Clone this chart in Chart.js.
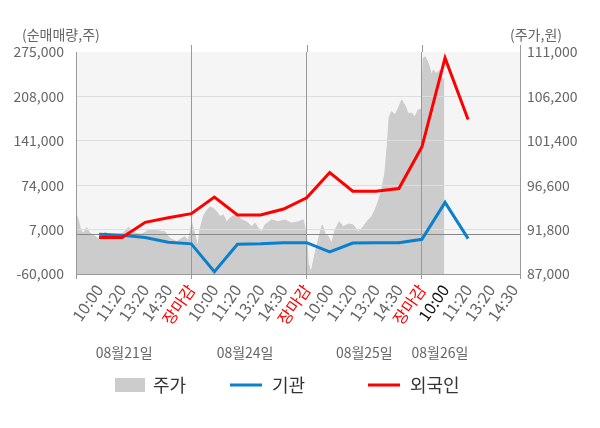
<!DOCTYPE html>
<html><head><meta charset="utf-8">
<script src="https://cdn.jsdelivr.net/npm/chart.js@4.4.0/dist/chart.umd.min.js"></script>
<style>html,body{margin:0;padding:0;background:#fff}#wrap{width:600px;height:428px;position:relative}</style>
</head><body><div id="wrap"><canvas id="c"></canvas></div>
<script>
// ---- data ----
const tickLabels = ['10:00','11:20','13:20','14:30','장마감',
                    '10:00','11:20','13:20','14:30','장마감',
                    '10:00','11:20','13:20','14:30','장마감',
                    '10:00','11:20','13:20','14:30'];
const pointTimes = [1,2,3,4,5,6,7,8,9,10,11,12,13,14,15,16,17];
const foreign = [-5000,-5000,18000,25000,31000,56000,29000,29000,38000,55000,93000,65000,65000,69000,132000,266000,173000];
const institution = [0,-1500,-5000,-12000,-14500,-56500,-15000,-14500,-13000,-12800,-26800,-13200,-13000,-13000,-7600,48000,-6700];
const priceTime = [0,0.10,0.20,0.32,0.46,0.61,0.82,0.97,1.26,1.47,1.76,2.05,2.27,2.56,2.85,
  3.13,3.50,3.86,4.07,4.36,4.72,4.87,5.02,5.16,5.28,5.37,5.52,5.67,5.81,5.95,
  6.10,6.24,6.38,6.53,6.75,6.97,7.18,7.40,7.62,7.76,7.90,8.05,8.19,8.48,8.77,
  9.06,9.35,9.64,9.85,10.00,10.07,10.19,10.29,10.43,10.58,10.68,10.79,10.94,
  11.08,11.23,11.41,11.59,11.80,12.02,12.24,12.45,12.67,12.82,12.96,
  13.10,13.25,13.39,13.49,13.58,13.68,13.83,13.97,14.12,14.26,14.40,14.55,14.69,14.84,14.98,
  15.05,15.13,15.27,15.42,15.49,15.63,15.78,15.90,15.97];
const price = [93550,92850,91750,91400,92000,91400,91100,90750,91550,91200,91100,91400,92050,91400,91300,
  91700,91700,91550,90850,90500,91050,90550,92500,91200,89950,91750,93200,93900,94250,94100,
  93750,93200,93400,92650,93200,93400,92850,92650,92100,92500,91950,91550,92300,92850,92650,
  92850,92500,92650,92850,91050,88150,87150,88350,89950,91400,92300,91400,91050,
  90300,91750,92650,92100,92400,92300,91550,92100,92850,93200,93900,
  94800,96100,97900,100750,104000,104550,104200,104900,105800,105250,104350,104400,104000,104750,104850,
  110300,110500,109800,108500,109050,108700,109050,107950,108150];
const volumeTicks = [-60000,0,7000,74000,141000,208000,275000];
const priceTicks = [87000,91800,96600,101400,106200,111000];
const dayBoundaries = [0,5,10,15,19.25];
const dateLabels = ['08월21일','08월24일','08월25일','08월26일'];
const dateLabelAt = [2.09,7.33,12.5,15.78];

const FONT = "'Noto Sans CJK KR','Noto Sans',sans-serif";
const xTickValues = [0].concat(tickLabels.map((_, i) => i + 1), [19.25]);
const toXY = (xs, ys) => xs.map((x, i) => ({x: x, y: ys[i]}));

const bgPlugin = {
  id: 'bg',
  beforeDraw(chart) {
    const {ctx, chartArea: a} = chart;
    ctx.save();
    ctx.fillStyle = '#ffffff';
    ctx.fillRect(0, 0, chart.width, chart.height);
    ctx.fillStyle = '#f5f5f5';
    ctx.fillRect(a.left, a.top, a.right - a.left, a.bottom - a.top);
    ctx.restore();
  }
};
const gridOverArea = {
  id: 'gridOverArea',
  afterDatasetDraw(chart, args) {
    if (args.index === 2) {
      chart.scales.y.drawGrid(chart.chartArea);
      chart.scales.x.drawGrid(chart.chartArea);
    }
  }
};
const textPlugin = {
  id: 'texts',
  afterDraw(chart) {
    const ctx = chart.ctx;
    const xs = chart.scales.x;
    const a = chart.chartArea;
    ctx.save();
    // day-boundary lines reach slightly above the plot
    ctx.strokeStyle = '#999999';
    ctx.lineWidth = 1;
    dayBoundaries.slice(1).forEach(v => {
      const px = Math.round(xs.getPixelForValue(v)) + 0.5;
      ctx.beginPath(); ctx.moveTo(px, a.top - 7); ctx.lineTo(px, a.top); ctx.stroke();
    });
    ctx.textBaseline = 'middle';
    ctx.font = '14px ' + FONT;
    ctx.fillStyle = '#666';
    ctx.textAlign = 'left';
    ctx.fillText('(순매매량,주)', 22, 35);
    ctx.fillText('(주가,원)', 510, 35);
    ctx.textAlign = 'center';
    dateLabels.forEach((t, i) => ctx.fillText(t, xs.getPixelForValue(dateLabelAt[i]), 353));
    // legend
    const ly = 385;
    ctx.font = '18px ' + FONT;
    ctx.textAlign = 'left';
    ctx.fillStyle = '#cccccc';
    ctx.fillRect(115, ly - 7, 30, 14);
    ctx.fillStyle = '#333';
    ctx.fillText(chart.data.datasets[2].label, 153, ly);
    ctx.lineWidth = 3;
    ctx.strokeStyle = chart.data.datasets[1].borderColor;
    ctx.beginPath(); ctx.moveTo(230, ly); ctx.lineTo(262, ly); ctx.stroke();
    ctx.fillText(chart.data.datasets[1].label, 272, ly);
    ctx.strokeStyle = chart.data.datasets[0].borderColor;
    ctx.beginPath(); ctx.moveTo(368, ly); ctx.lineTo(400, ly); ctx.stroke();
    ctx.fillText(chart.data.datasets[0].label, 410, ly);
    ctx.restore();
  }
};

new Chart(document.getElementById('c'), {
  type: 'line',
  data: {datasets: [
    {label: '외국인', data: toXY(pointTimes, foreign), yAxisID: 'y', borderColor: '#ff0000', borderWidth: 3,
     pointRadius: 0, tension: 0, fill: false, order: 1},
    {label: '기관', data: toXY(pointTimes, institution), yAxisID: 'y', borderColor: '#0a80cc', borderWidth: 3,
     pointRadius: 0, tension: 0, fill: false, order: 2},
    {label: '주가', data: toXY(priceTime, price), yAxisID: 'y2', borderColor: '#cccccc', borderWidth: 1,
     backgroundColor: '#cccccc', fill: 'start', pointRadius: 0, tension: 0, order: 3}
  ]},
  options: {
    responsive: true, maintainAspectRatio: false, animation: false,
    layout: {padding: {top: 52, left: 0, right: 0, bottom: 0}},
    plugins: {legend: {display: false}, tooltip: {enabled: false}},
    scales: {
      x: {
        type: 'linear', min: 0, max: 19.25,
        afterBuildTicks: s => { s.ticks = xTickValues.map(v => ({value: v})); },
        afterFit: s => { s.height = 154; },
        ticks: {
          autoSkip: false, minRotation: 55, maxRotation: 55, padding: 2,
          font: {family: FONT, size: 16},
          callback: v => (Number.isInteger(v) && v >= 1 && v <= tickLabels.length) ? tickLabels[v - 1] : '',
          color: c => {
            const v = c.tick ? c.tick.value : 0;
            const l = tickLabels[v - 1];
            if (l === '장마감') return '#ff0000';
            if (v === 16) return '#111111';
            return '#666666';
          }
        },
        grid: {
          color: c => (c.tick && dayBoundaries.includes(c.tick.value)) ? '#999999' : 'rgba(0,0,0,0)',
          tickLength: 5, drawTicks: true
        },
        border: {color: '#999999'}
      },
      y: {
        position: 'left', min: -60000, max: 275000,
        afterBuildTicks: s => { s.ticks = volumeTicks.map(v => ({value: v})); },
        afterFit: s => { s.width = 76; },
        ticks: {
          padding: 12, color: '#666666', font: {family: FONT, size: 14},
          callback: v => v === 0 ? '' : v.toLocaleString('en-US')
        },
        grid: {
          drawTicks: false,
          color: c => {
            const v = c.tick ? c.tick.value : null;
            if (v === 0) return '#888888';
            if (v === -60000 || v === 275000) return 'rgba(0,0,0,0)';
            return '#dddddd';
          }
        },
        border: {color: '#999999'}
      },
      y2: {
        position: 'right', min: 87000, max: 111000,
        afterBuildTicks: s => { s.ticks = priceTicks.map(v => ({value: v})); },
        afterFit: s => { s.width = 80; },
        ticks: {
          padding: 7, color: '#666666', font: {family: FONT, size: 14},
          callback: v => v.toLocaleString('en-US')
        },
        grid: {drawOnChartArea: false, drawTicks: false},
        border: {color: '#999999'}
      }
    }
  },
  plugins: [bgPlugin, gridOverArea, textPlugin]
});
</script>
</body></html>
